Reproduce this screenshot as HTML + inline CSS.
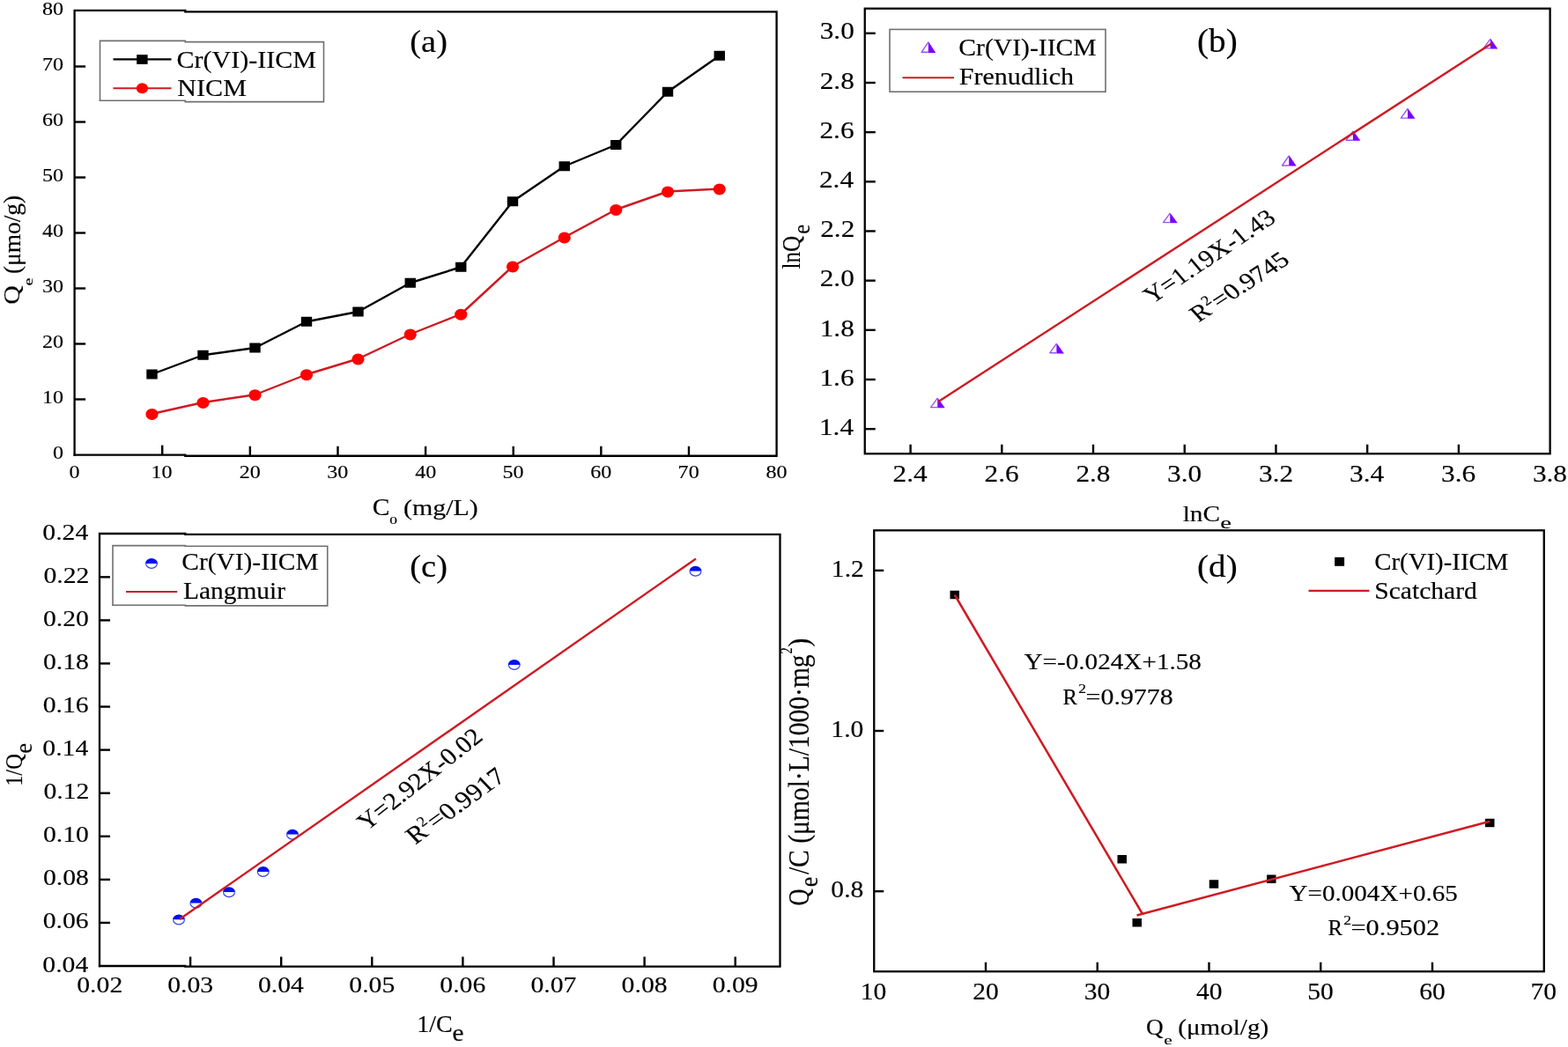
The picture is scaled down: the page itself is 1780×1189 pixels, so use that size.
<!DOCTYPE html>
<html><head><meta charset="utf-8"><title>Adsorption isotherms</title>
<style>
html,body{margin:0;padding:0;background:#fff;overflow:hidden}
svg{display:block}
text{font-family:'Liberation Serif', 'DejaVu Serif', serif;font-kerning:none;stroke:#000;stroke-width:0.15px;paint-order:stroke}
</style></head>
<body>
<svg width="1780" height="1189" viewBox="0 0 1780 1189">
<rect width="1780" height="1189" fill="#fff"/>
<path d="M84.6,516.6 V11.9 H210.3" fill="none" stroke="#000" stroke-width="2.3" stroke-linecap="square"/><path d="M210.3,13.3 H881.6 V517.75 H210.3" fill="none" stroke="#000" stroke-width="2.3" stroke-linecap="square"/><path d="M210.3,516.6 H84.6" fill="none" stroke="#000" stroke-width="2.3" stroke-linecap="square"/>
<line x1="84.60" y1="453.50" x2="97.10" y2="453.50" stroke="#000" stroke-width="2.4"/>
<line x1="184.22" y1="516.60" x2="184.22" y2="505.60" stroke="#000" stroke-width="2.4"/>
<line x1="84.60" y1="390.50" x2="97.10" y2="390.50" stroke="#000" stroke-width="2.4"/>
<line x1="283.85" y1="517.75" x2="283.85" y2="506.75" stroke="#000" stroke-width="2.4"/>
<line x1="84.60" y1="327.50" x2="97.10" y2="327.50" stroke="#000" stroke-width="2.4"/>
<line x1="383.48" y1="517.75" x2="383.48" y2="506.75" stroke="#000" stroke-width="2.4"/>
<line x1="84.60" y1="264.50" x2="97.10" y2="264.50" stroke="#000" stroke-width="2.4"/>
<line x1="483.10" y1="517.75" x2="483.10" y2="506.75" stroke="#000" stroke-width="2.4"/>
<line x1="84.60" y1="201.50" x2="97.10" y2="201.50" stroke="#000" stroke-width="2.4"/>
<line x1="582.73" y1="517.75" x2="582.73" y2="506.75" stroke="#000" stroke-width="2.4"/>
<line x1="84.60" y1="138.50" x2="97.10" y2="138.50" stroke="#000" stroke-width="2.4"/>
<line x1="682.35" y1="517.75" x2="682.35" y2="506.75" stroke="#000" stroke-width="2.4"/>
<line x1="84.60" y1="75.50" x2="97.10" y2="75.50" stroke="#000" stroke-width="2.4"/>
<line x1="781.98" y1="517.75" x2="781.98" y2="506.75" stroke="#000" stroke-width="2.4"/>
<text transform="translate(60.08,521.30) scale(1.1200,1)" font-size="21.50">0</text>
<text transform="translate(78.58,543.00) scale(1.1200,1)" font-size="21.50">0</text>
<text transform="translate(48.04,458.30) scale(1.1200,1)" font-size="21.50">10</text>
<text transform="translate(171.59,543.00) scale(1.1200,1)" font-size="21.50">10</text>
<text transform="translate(48.04,395.30) scale(1.1200,1)" font-size="21.50">20</text>
<text transform="translate(271.74,543.00) scale(1.1200,1)" font-size="21.50">20</text>
<text transform="translate(48.04,332.30) scale(1.1200,1)" font-size="21.50">30</text>
<text transform="translate(371.32,543.00) scale(1.1200,1)" font-size="21.50">30</text>
<text transform="translate(48.04,269.30) scale(1.1200,1)" font-size="21.50">40</text>
<text transform="translate(471.28,543.00) scale(1.1200,1)" font-size="21.50">40</text>
<text transform="translate(48.04,206.30) scale(1.1200,1)" font-size="21.50">50</text>
<text transform="translate(570.44,543.00) scale(1.1200,1)" font-size="21.50">50</text>
<text transform="translate(48.04,143.30) scale(1.1200,1)" font-size="21.50">60</text>
<text transform="translate(670.25,543.00) scale(1.1200,1)" font-size="21.50">60</text>
<text transform="translate(48.04,80.30) scale(1.1200,1)" font-size="21.50">70</text>
<text transform="translate(769.60,543.00) scale(1.1200,1)" font-size="21.50">70</text>
<text transform="translate(48.04,17.30) scale(1.1200,1)" font-size="21.50">80</text>
<text transform="translate(869.56,543.00) scale(1.1200,1)" font-size="21.50">80</text>
<polyline points="172.50,425.00 230.50,403.25 289.50,395.00 348.00,365.25 406.50,354.00 465.75,321.25 523.25,303.25 582.00,228.75 640.75,188.75 699.25,164.50 758.00,104.25 816.75,63.25" fill="none" stroke="#000" stroke-width="2.4" stroke-linejoin="round"/>
<polyline points="172.50,470.00 230.50,457.00 289.50,448.25 348.00,425.25 406.50,407.50 465.75,379.50 523.25,356.75 582.00,302.50 640.75,269.50 699.25,238.00 758.00,217.50 816.75,214.50" fill="none" stroke="#cf1a22" stroke-width="2.4" stroke-linejoin="round"/>
<rect x="166.30" y="419.50" width="12.40" height="11.00" fill="#000"/>
<rect x="224.30" y="397.75" width="12.40" height="11.00" fill="#000"/>
<rect x="283.30" y="389.50" width="12.40" height="11.00" fill="#000"/>
<rect x="341.80" y="359.75" width="12.40" height="11.00" fill="#000"/>
<rect x="400.30" y="348.50" width="12.40" height="11.00" fill="#000"/>
<rect x="459.55" y="315.75" width="12.40" height="11.00" fill="#000"/>
<rect x="517.05" y="297.75" width="12.40" height="11.00" fill="#000"/>
<rect x="575.80" y="223.25" width="12.40" height="11.00" fill="#000"/>
<rect x="634.55" y="183.25" width="12.40" height="11.00" fill="#000"/>
<rect x="693.05" y="159.00" width="12.40" height="11.00" fill="#000"/>
<rect x="751.80" y="98.75" width="12.40" height="11.00" fill="#000"/>
<rect x="810.55" y="57.75" width="12.40" height="11.00" fill="#000"/>
<ellipse cx="172.50" cy="470.40" rx="7.10" ry="6.50" fill="#ff0000"/>
<ellipse cx="230.50" cy="457.40" rx="7.10" ry="6.50" fill="#ff0000"/>
<ellipse cx="289.50" cy="448.65" rx="7.10" ry="6.50" fill="#ff0000"/>
<ellipse cx="348.00" cy="425.65" rx="7.10" ry="6.50" fill="#ff0000"/>
<ellipse cx="406.50" cy="407.90" rx="7.10" ry="6.50" fill="#ff0000"/>
<ellipse cx="465.75" cy="379.90" rx="7.10" ry="6.50" fill="#ff0000"/>
<ellipse cx="523.25" cy="357.15" rx="7.10" ry="6.50" fill="#ff0000"/>
<ellipse cx="582.00" cy="302.90" rx="7.10" ry="6.50" fill="#ff0000"/>
<ellipse cx="640.75" cy="269.90" rx="7.10" ry="6.50" fill="#ff0000"/>
<ellipse cx="699.25" cy="238.40" rx="7.10" ry="6.50" fill="#ff0000"/>
<ellipse cx="758.00" cy="217.90" rx="7.10" ry="6.50" fill="#ff0000"/>
<ellipse cx="816.75" cy="214.90" rx="7.10" ry="6.50" fill="#ff0000"/>
<path d="M113.5,46.4 H210.3 V47.6 H367.5 V115.6 H210.3 V114.2 H113.5 Z" fill="#fff"/><path d="M113.5,114.2 V46.4 H210.3" fill="none" stroke="#707070" stroke-width="1.6" stroke-linecap="square"/><path d="M210.3,47.6 H367.5 V115.6 H210.3" fill="none" stroke="#707070" stroke-width="1.6" stroke-linecap="square"/><path d="M210.3,114.2 H113.5" fill="none" stroke="#707070" stroke-width="1.6" stroke-linecap="square"/>
<line x1="128.50" y1="67.30" x2="194.50" y2="67.30" stroke="#000" stroke-width="2.2"/>
<rect x="155.20" y="62.10" width="12.40" height="10.80" fill="#000"/>
<line x1="128.50" y1="100.30" x2="194.50" y2="100.30" stroke="#cf1a22" stroke-width="2.0"/>
<ellipse cx="161.40" cy="100.20" rx="6.60" ry="6.00" fill="#ff0000"/>
<text transform="translate(200.47,76.90) scale(1.0629,1)" font-size="28.30">Cr(VI)-IICM</text>
<text transform="translate(201.33,108.60) scale(1.1437,1)" font-size="26.30">NICM</text>
<text transform="translate(465.31,59.21) scale(1.0503,1)" font-size="36.61">(a)</text>
<text transform="translate(422.69,584.74) scale(1.1239,1)" font-size="26.34">C</text>
<text transform="translate(442.14,594.67) scale(1.3091,1)" font-size="13.34">0</text>
<text transform="translate(457.98,584.79) scale(1.2163,1)" font-size="24.62">(mg/L)</text>
<g transform="rotate(-90)"><text transform="translate(-311.10,22.99) scale(1.0015,1)" font-size="27.37">(μmo/g)</text><text transform="translate(-345.72,21.97) scale(1.1703,1)" font-size="25.48">Q</text><text transform="translate(-324.39,36.85) scale(1.3170,1)" font-size="15.39">e</text></g>
<rect x="981.75" y="9.7" width="777.85" height="505.55" fill="none" stroke="#000" stroke-width="2.3"/>
<line x1="1033.61" y1="515.25" x2="1033.61" y2="504.75" stroke="#000" stroke-width="2.4"/>
<text transform="translate(1013.60,546.50) scale(1.1550,1)" font-size="27.10">2.4</text>
<line x1="1137.32" y1="515.25" x2="1137.32" y2="504.75" stroke="#000" stroke-width="2.4"/>
<text transform="translate(1117.54,546.50) scale(1.1550,1)" font-size="27.10">2.6</text>
<line x1="1241.03" y1="515.25" x2="1241.03" y2="504.75" stroke="#000" stroke-width="2.4"/>
<text transform="translate(1221.38,546.50) scale(1.1550,1)" font-size="27.10">2.8</text>
<line x1="1344.75" y1="515.25" x2="1344.75" y2="504.75" stroke="#000" stroke-width="2.4"/>
<text transform="translate(1325.03,546.50) scale(1.1550,1)" font-size="27.10">3.0</text>
<line x1="1448.46" y1="515.25" x2="1448.46" y2="504.75" stroke="#000" stroke-width="2.4"/>
<text transform="translate(1429.01,546.50) scale(1.1550,1)" font-size="27.10">3.2</text>
<line x1="1552.17" y1="515.25" x2="1552.17" y2="504.75" stroke="#000" stroke-width="2.4"/>
<text transform="translate(1532.11,546.50) scale(1.1550,1)" font-size="27.10">3.4</text>
<line x1="1655.89" y1="515.25" x2="1655.89" y2="504.75" stroke="#000" stroke-width="2.4"/>
<text transform="translate(1636.04,546.50) scale(1.1550,1)" font-size="27.10">3.6</text>
<text transform="translate(1739.88,546.50) scale(1.1550,1)" font-size="27.10">3.8</text>
<line x1="981.75" y1="487.16" x2="993.75" y2="487.16" stroke="#000" stroke-width="2.4"/>
<text transform="translate(929.96,493.86) scale(1.1550,1)" font-size="27.10">1.4</text>
<line x1="981.75" y1="430.99" x2="993.75" y2="430.99" stroke="#000" stroke-width="2.4"/>
<text transform="translate(930.41,437.69) scale(1.1550,1)" font-size="27.10">1.6</text>
<line x1="981.75" y1="374.82" x2="993.75" y2="374.82" stroke="#000" stroke-width="2.4"/>
<text transform="translate(930.67,381.52) scale(1.1550,1)" font-size="27.10">1.8</text>
<line x1="981.75" y1="318.65" x2="993.75" y2="318.65" stroke="#000" stroke-width="2.4"/>
<text transform="translate(930.67,325.35) scale(1.1550,1)" font-size="27.10">2.0</text>
<line x1="981.75" y1="262.47" x2="993.75" y2="262.47" stroke="#000" stroke-width="2.4"/>
<text transform="translate(931.20,269.17) scale(1.1550,1)" font-size="27.10">2.2</text>
<line x1="981.75" y1="206.30" x2="993.75" y2="206.30" stroke="#000" stroke-width="2.4"/>
<text transform="translate(929.96,213.00) scale(1.1550,1)" font-size="27.10">2.4</text>
<line x1="981.75" y1="150.13" x2="993.75" y2="150.13" stroke="#000" stroke-width="2.4"/>
<text transform="translate(930.41,156.83) scale(1.1550,1)" font-size="27.10">2.6</text>
<line x1="981.75" y1="93.96" x2="993.75" y2="93.96" stroke="#000" stroke-width="2.4"/>
<text transform="translate(930.67,100.66) scale(1.1550,1)" font-size="27.10">2.8</text>
<line x1="981.75" y1="37.79" x2="993.75" y2="37.79" stroke="#000" stroke-width="2.4"/>
<text transform="translate(930.67,44.49) scale(1.1550,1)" font-size="27.10">3.0</text>
<path d="M1064.25,451.40 L1072.75,463.25 L1064.25,463.25 Z" fill="#7b00ff"/><path d="M1064.25,452.20 L1056.55,462.65 L1064.25,462.65" fill="none" stroke="#9a55f0" stroke-width="1.4" stroke-linejoin="round"/>
<path d="M1199.40,389.40 L1207.90,401.40 L1199.40,401.40 Z" fill="#7b00ff"/><path d="M1199.40,390.20 L1191.70,400.80 L1199.40,400.80" fill="none" stroke="#9a55f0" stroke-width="1.4" stroke-linejoin="round"/>
<path d="M1328.25,241.40 L1336.75,253.20 L1328.25,253.20 Z" fill="#7b00ff"/><path d="M1328.25,242.20 L1320.55,252.60 L1328.25,252.60" fill="none" stroke="#9a55f0" stroke-width="1.4" stroke-linejoin="round"/>
<path d="M1463.20,176.00 L1471.70,188.60 L1463.20,188.60 Z" fill="#7b00ff"/><path d="M1463.20,176.80 L1455.50,188.00 L1463.20,188.00" fill="none" stroke="#9a55f0" stroke-width="1.4" stroke-linejoin="round"/>
<path d="M1535.90,148.30 L1544.40,159.80 L1535.90,159.80 Z" fill="#7b00ff"/><path d="M1535.90,149.10 L1528.20,159.20 L1535.90,159.20" fill="none" stroke="#9a55f0" stroke-width="1.4" stroke-linejoin="round"/>
<path d="M1598.00,122.70 L1606.50,134.70 L1598.00,134.70 Z" fill="#7b00ff"/><path d="M1598.00,123.50 L1590.30,134.10 L1598.00,134.10" fill="none" stroke="#9a55f0" stroke-width="1.4" stroke-linejoin="round"/>
<path d="M1691.80,43.50 L1700.30,55.50 L1691.80,55.50 Z" fill="#7b00ff"/><path d="M1691.80,44.30 L1684.10,54.90 L1691.80,54.90" fill="none" stroke="#9a55f0" stroke-width="1.4" stroke-linejoin="round"/>
<line x1="1065.00" y1="456.25" x2="1693.00" y2="49.50" stroke="#cf1a22" stroke-width="2.4"/>
<rect x="1010" y="33.4" width="245" height="70.8" fill="#fff" stroke="#707070" stroke-width="1.6"/>
<path d="M1053.80,47.10 L1062.30,59.90 L1053.80,59.90 Z" fill="#7b00ff"/><path d="M1053.80,47.90 L1046.10,59.30 L1053.80,59.30" fill="none" stroke="#9a55f0" stroke-width="1.4" stroke-linejoin="round"/>
<text transform="translate(1088.28,62.90) scale(1.1056,1)" font-size="26.80">Cr(VI)-IICM</text>
<line x1="1024.50" y1="88.25" x2="1083.00" y2="88.25" stroke="#cf1a22" stroke-width="2.2"/>
<text transform="translate(1088.63,96.00) scale(1.1411,1)" font-size="26.40">Frenudlich</text>
<text transform="translate(1359.08,59.06) scale(1.0500,1)" font-size="37.28">(b)</text>
<g transform="translate(1307.72,345.68) scale(1.1300,1) rotate(-37.100)"><text x="0.00" y="0.00" font-size="27.00">Y=1.19X-1.43</text></g>
<g transform="translate(1360.70,366.59) scale(1.1900,1) rotate(-38.000)"><text x="0.00" y="0.00" font-size="26.00">R</text><text x="17.30" y="-10.50" font-size="15.50">2</text><text x="25.50" y="0.00" font-size="26.00">=0.9745</text></g>
<g transform="rotate(-90)"><text transform="translate(-305.60,907.70) scale(0.8827,1)" font-size="28.50">lnQ</text><text transform="translate(-265.66,918.62) scale(0.8695,1)" font-size="28.28">e</text></g>
<text transform="translate(1342.71,592.20) scale(1.1711,1)" font-size="25.00">lnC</text>
<text transform="translate(1385.18,599.81) scale(1.4972,1)" font-size="19.13">e</text>
<path d="M113,1097 V606.0 H210.3" fill="none" stroke="#000" stroke-width="2.3" stroke-linecap="square"/><path d="M210.3,606.8 H885.5 V1097.6 H210.3" fill="none" stroke="#000" stroke-width="2.3" stroke-linecap="square"/><path d="M210.3,1097 H113" fill="none" stroke="#000" stroke-width="2.3" stroke-linecap="square"/>
<text transform="translate(87.27,1126.50) scale(1.1600,1)" font-size="25.60">0.02</text>
<line x1="216.10" y1="1097.00" x2="216.10" y2="1086.50" stroke="#000" stroke-width="2.4"/>
<text transform="translate(190.13,1126.50) scale(1.1600,1)" font-size="25.60">0.03</text>
<line x1="319.20" y1="1097.00" x2="319.20" y2="1086.50" stroke="#000" stroke-width="2.4"/>
<text transform="translate(292.88,1126.50) scale(1.1600,1)" font-size="25.60">0.04</text>
<line x1="422.30" y1="1097.00" x2="422.30" y2="1086.50" stroke="#000" stroke-width="2.4"/>
<text transform="translate(396.33,1126.50) scale(1.1600,1)" font-size="25.60">0.05</text>
<line x1="525.40" y1="1097.00" x2="525.40" y2="1086.50" stroke="#000" stroke-width="2.4"/>
<text transform="translate(499.29,1126.50) scale(1.1600,1)" font-size="25.60">0.06</text>
<line x1="628.50" y1="1097.00" x2="628.50" y2="1086.50" stroke="#000" stroke-width="2.4"/>
<text transform="translate(602.38,1126.50) scale(1.1600,1)" font-size="25.60">0.07</text>
<line x1="731.60" y1="1097.00" x2="731.60" y2="1086.50" stroke="#000" stroke-width="2.4"/>
<text transform="translate(705.62,1126.50) scale(1.1600,1)" font-size="25.60">0.08</text>
<line x1="834.70" y1="1097.00" x2="834.70" y2="1086.50" stroke="#000" stroke-width="2.4"/>
<text transform="translate(808.76,1126.50) scale(1.1600,1)" font-size="25.60">0.09</text>
<text transform="translate(48.30,1103.50) scale(1.1600,1)" font-size="25.60">0.04</text>
<line x1="113.00" y1="1047.92" x2="125.00" y2="1047.92" stroke="#000" stroke-width="2.4"/>
<text transform="translate(48.72,1054.42) scale(1.1600,1)" font-size="25.60">0.06</text>
<line x1="113.00" y1="998.85" x2="125.00" y2="998.85" stroke="#000" stroke-width="2.4"/>
<text transform="translate(48.96,1005.35) scale(1.1600,1)" font-size="25.60">0.08</text>
<line x1="113.00" y1="949.77" x2="125.00" y2="949.77" stroke="#000" stroke-width="2.4"/>
<text transform="translate(48.96,956.27) scale(1.1600,1)" font-size="25.60">0.10</text>
<line x1="113.00" y1="900.70" x2="125.00" y2="900.70" stroke="#000" stroke-width="2.4"/>
<text transform="translate(49.47,907.20) scale(1.1600,1)" font-size="25.60">0.12</text>
<line x1="113.00" y1="851.62" x2="125.00" y2="851.62" stroke="#000" stroke-width="2.4"/>
<text transform="translate(48.30,858.12) scale(1.1600,1)" font-size="25.60">0.14</text>
<line x1="113.00" y1="802.55" x2="125.00" y2="802.55" stroke="#000" stroke-width="2.4"/>
<text transform="translate(48.72,809.05) scale(1.1600,1)" font-size="25.60">0.16</text>
<line x1="113.00" y1="753.47" x2="125.00" y2="753.47" stroke="#000" stroke-width="2.4"/>
<text transform="translate(48.96,759.97) scale(1.1600,1)" font-size="25.60">0.18</text>
<line x1="113.00" y1="704.40" x2="125.00" y2="704.40" stroke="#000" stroke-width="2.4"/>
<text transform="translate(48.96,710.90) scale(1.1600,1)" font-size="25.60">0.20</text>
<line x1="113.00" y1="655.33" x2="125.00" y2="655.33" stroke="#000" stroke-width="2.4"/>
<text transform="translate(49.47,661.83) scale(1.1600,1)" font-size="25.60">0.22</text>
<text transform="translate(48.30,612.75) scale(1.1600,1)" font-size="25.60">0.24</text>
<path d="M196.00,1044.50 A7.00,6.00 0 0 1 210.00,1044.50 Z" fill="#0010f0"/><path d="M196.60,1044.50 A6.40,5.40 0 0 0 209.40,1044.50" fill="#fff" stroke="#3040f0" stroke-width="1.2"/>
<path d="M215.50,1025.75 A7.00,6.00 0 0 1 229.50,1025.75 Z" fill="#0010f0"/><path d="M216.10,1025.75 A6.40,5.40 0 0 0 228.90,1025.75" fill="#fff" stroke="#3040f0" stroke-width="1.2"/>
<path d="M253.00,1013.25 A7.00,6.00 0 0 1 267.00,1013.25 Z" fill="#0010f0"/><path d="M253.60,1013.25 A6.40,5.40 0 0 0 266.40,1013.25" fill="#fff" stroke="#3040f0" stroke-width="1.2"/>
<path d="M291.75,990.00 A7.00,6.00 0 0 1 305.75,990.00 Z" fill="#0010f0"/><path d="M292.35,990.00 A6.40,5.40 0 0 0 305.15,990.00" fill="#fff" stroke="#3040f0" stroke-width="1.2"/>
<path d="M325.00,947.75 A7.00,6.00 0 0 1 339.00,947.75 Z" fill="#0010f0"/><path d="M325.60,947.75 A6.40,5.40 0 0 0 338.40,947.75" fill="#fff" stroke="#3040f0" stroke-width="1.2"/>
<path d="M576.75,755.00 A7.00,6.00 0 0 1 590.75,755.00 Z" fill="#0010f0"/><path d="M577.35,755.00 A6.40,5.40 0 0 0 590.15,755.00" fill="#fff" stroke="#3040f0" stroke-width="1.2"/>
<path d="M782.50,648.75 A7.00,6.00 0 0 1 796.50,648.75 Z" fill="#0010f0"/><path d="M783.10,648.75 A6.40,5.40 0 0 0 795.90,648.75" fill="#fff" stroke="#3040f0" stroke-width="1.2"/>
<line x1="203.75" y1="1044.00" x2="790.00" y2="634.50" stroke="#cf1a22" stroke-width="2.4"/>
<path d="M128,619.6 H210.3 V620.3 H371.75 V687.9 H210.3 V687.2 H128 Z" fill="#fff"/><path d="M128,687.2 V619.6 H210.3" fill="none" stroke="#707070" stroke-width="1.6" stroke-linecap="square"/><path d="M210.3,620.3 H371.75 V687.9 H210.3" fill="none" stroke="#707070" stroke-width="1.6" stroke-linecap="square"/><path d="M210.3,687.2 H128" fill="none" stroke="#707070" stroke-width="1.6" stroke-linecap="square"/>
<path d="M165.00,640.00 A7.00,6.00 0 0 1 179.00,640.00 Z" fill="#0010f0"/><path d="M165.60,640.00 A6.40,5.40 0 0 0 178.40,640.00" fill="#fff" stroke="#3040f0" stroke-width="1.2"/>
<text transform="translate(206.29,647.20) scale(1.1108,1)" font-size="26.50">Cr(VI)-IICM</text>
<line x1="143.00" y1="672.00" x2="201.25" y2="672.00" stroke="#cf1a22" stroke-width="2.2"/>
<text transform="translate(207.90,680.20) scale(1.1111,1)" font-size="26.50">Langmuir</text>
<text transform="translate(465.31,654.87) scale(1.0729,1)" font-size="35.84">(c)</text>
<g transform="translate(416.25,944.20) scale(1.1000,1) rotate(-40.900)"><text x="0.00" y="0.00" font-size="27.50">Y=2.92X-0.02</text></g>
<g transform="translate(471.38,959.42) scale(1.1500,1) rotate(-39.600)"><text x="0.00" y="0.00" font-size="27.50">R</text><text x="18.00" y="-11.00" font-size="16.00">2</text><text x="26.50" y="0.00" font-size="27.50">=0.9917</text></g>
<g transform="rotate(-90)"><text transform="translate(-892.85,24.60) scale(0.9190,1)" font-size="26.60">1/Q</text><text transform="translate(-855.66,35.54) scale(1.0152,1)" font-size="26.61">e</text></g>
<text transform="translate(473.13,1172.20) scale(1.0690,1)" font-size="26.30">1/C</text>
<text transform="translate(513.45,1181.84) scale(1.0980,1)" font-size="26.82">e</text>
<rect x="992.25" y="602.3" width="760.50" height="500.95" fill="none" stroke="#000" stroke-width="2.3"/>
<text transform="translate(976.73,1134.60) scale(1.1200,1)" font-size="26.40">10</text>
<line x1="1119.00" y1="1103.25" x2="1119.00" y2="1092.75" stroke="#000" stroke-width="2.4"/>
<text transform="translate(1104.13,1134.60) scale(1.1200,1)" font-size="26.40">20</text>
<line x1="1245.75" y1="1103.25" x2="1245.75" y2="1092.75" stroke="#000" stroke-width="2.4"/>
<text transform="translate(1230.82,1134.60) scale(1.1200,1)" font-size="26.40">30</text>
<line x1="1372.50" y1="1103.25" x2="1372.50" y2="1092.75" stroke="#000" stroke-width="2.4"/>
<text transform="translate(1357.99,1134.60) scale(1.1200,1)" font-size="26.40">40</text>
<line x1="1499.25" y1="1103.25" x2="1499.25" y2="1092.75" stroke="#000" stroke-width="2.4"/>
<text transform="translate(1484.17,1134.60) scale(1.1200,1)" font-size="26.40">50</text>
<line x1="1626.00" y1="1103.25" x2="1626.00" y2="1092.75" stroke="#000" stroke-width="2.4"/>
<text transform="translate(1611.14,1134.60) scale(1.1200,1)" font-size="26.40">60</text>
<text transform="translate(1737.55,1134.60) scale(1.1200,1)" font-size="26.40">70</text>
<line x1="992.25" y1="1012.17" x2="1003.25" y2="1012.17" stroke="#000" stroke-width="2.4"/>
<text transform="translate(943.37,1019.17) scale(1.1200,1)" font-size="26.40">0.8</text>
<line x1="992.25" y1="830.00" x2="1003.25" y2="830.00" stroke="#000" stroke-width="2.4"/>
<text transform="translate(943.37,837.00) scale(1.1200,1)" font-size="26.40">1.0</text>
<line x1="992.25" y1="647.84" x2="1003.25" y2="647.84" stroke="#000" stroke-width="2.4"/>
<text transform="translate(943.87,654.84) scale(1.1200,1)" font-size="26.40">1.2</text>
<rect x="1078.50" y="670.75" width="10.50" height="9.50" fill="#000"/>
<rect x="1268.50" y="971.00" width="10.50" height="9.50" fill="#000"/>
<rect x="1285.50" y="1043.00" width="10.50" height="9.50" fill="#000"/>
<rect x="1372.75" y="999.25" width="10.50" height="9.50" fill="#000"/>
<rect x="1438.00" y="993.50" width="10.50" height="9.50" fill="#000"/>
<rect x="1686.00" y="929.75" width="10.50" height="9.50" fill="#000"/>
<polyline points="1083.75,675.50 1297.00,1038.00" fill="none" stroke="#cf1a22" stroke-width="2.5" stroke-linejoin="round"/>
<polyline points="1290.50,1039.50 1691.25,932.75" fill="none" stroke="#cf1a22" stroke-width="2.5" stroke-linejoin="round"/>
<rect x="1515.10" y="632.80" width="11.00" height="10.00" fill="#000"/>
<text transform="translate(1560.32,646.90) scale(1.0873,1)" font-size="26.50">Cr(VI)-IICM</text>
<line x1="1485.50" y1="670.80" x2="1554.50" y2="670.80" stroke="#cf1a22" stroke-width="2.2"/>
<text transform="translate(1560.22,680.20) scale(1.1165,1)" font-size="26.50">Scatchard</text>
<text transform="translate(1359.08,655.08) scale(1.0658,1)" font-size="36.73">(d)</text>
<text transform="translate(1162.47,760.20) scale(1.1231,1)" font-size="26.00">Y=-0.024X+1.58</text>
<text transform="translate(1206.59,799.50) scale(0.9484,1)" font-size="26.00">R</text>
<text transform="translate(1224.23,787.00) scale(1.2473,1)" font-size="14.00">2</text>
<text transform="translate(1232.51,799.50) scale(1.1529,1)" font-size="26.00">=0.9778</text>
<text transform="translate(1463.42,1023.25) scale(1.1205,1)" font-size="26.00">Y=0.004X+0.65</text>
<text transform="translate(1507.54,1062.00) scale(0.9514,1)" font-size="26.00">R</text>
<text transform="translate(1525.23,1049.50) scale(1.2473,1)" font-size="14.00">2</text>
<text transform="translate(1533.49,1062.00) scale(1.1686,1)" font-size="26.00">=0.9502</text>
<text transform="translate(1337.22,1174.79) scale(1.1838,1)" font-size="24.62">(μmol/g)</text>
<text transform="translate(1300.98,1174.70) scale(1.0689,1)" font-size="25.50">Q</text>
<text transform="translate(1321.17,1185.76) scale(1.4878,1)" font-size="14.35">e</text>
<g transform="rotate(-90)"><text transform="translate(-1028.59,917.80) scale(0.8031,1)" font-size="33.00">Q</text><text transform="translate(-1007.31,928.11) scale(0.8603,1)" font-size="30.15">e</text><text transform="translate(-993.10,917.80) scale(0.8958,1)" font-size="33.00">/C (μmol·L/1000·mg</text><text transform="translate(-742.62,899.40) scale(0.7592,1)" font-size="18.73">2</text><text transform="translate(-734.67,917.80) scale(0.9085,1)" font-size="33.00">)</text></g>
</svg>
</body></html>
